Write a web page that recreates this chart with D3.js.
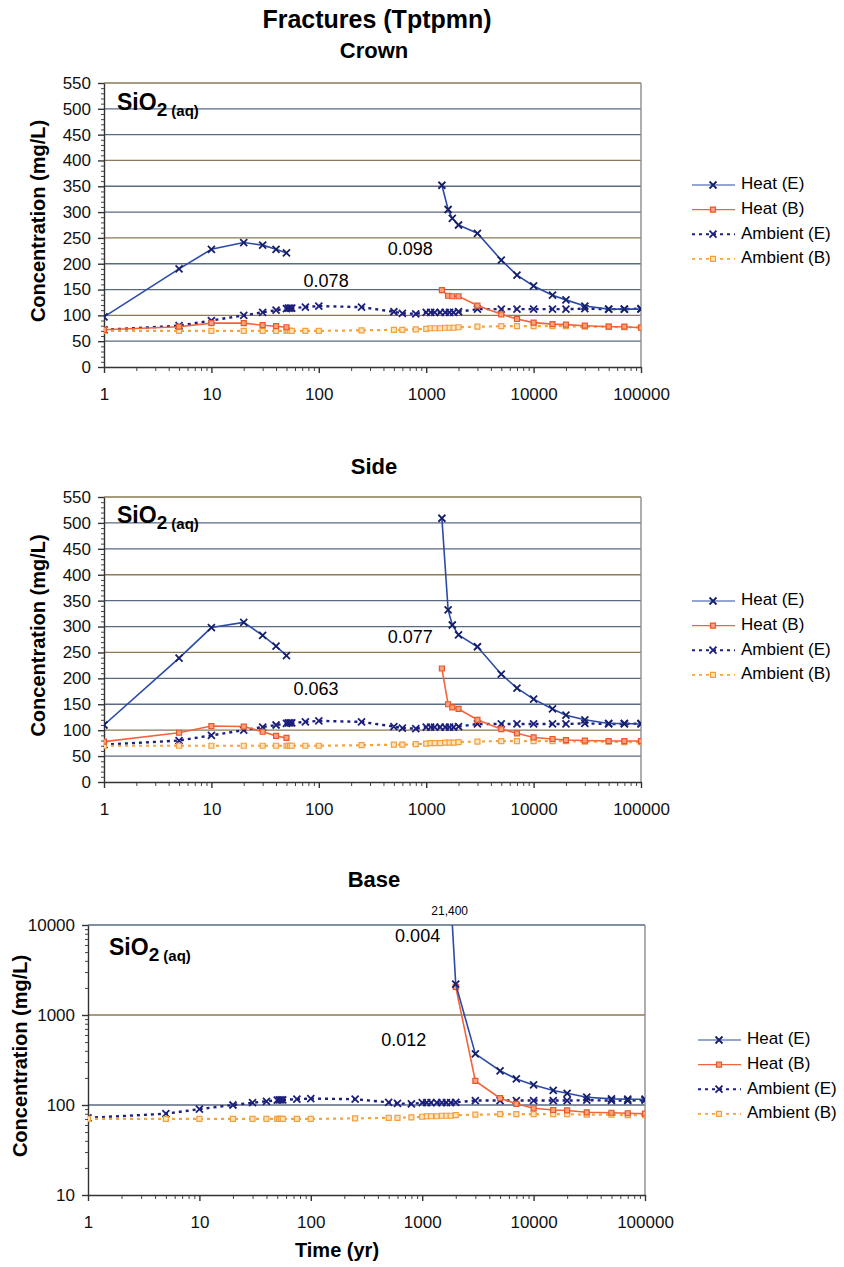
<!DOCTYPE html>
<html>
<head>
<meta charset="utf-8">
<script src="https://cdn.jsdelivr.net/npm/d3@7"></script>
<style>
  body { margin: 0; background: #fff; }
  text { font-family: "Liberation Sans", Arial, sans-serif; }
</style>
</head>
<body>
<svg id="chart" width="844" height="1267"></svg>
<script>
// ---- data ----
const heatYears1 = [1, 5, 10, 20, 30, 40, 50];
const heatYears2 = [1400, 1600, 1750, 2000, 3000, 5000, 7000, 10000, 15000, 20000, 30000, 50000, 70000, 100000];

const ambYears = [1, 5, 10, 20, 30, 40, 50, 52, 54, 56, 75, 100, 250, 500, 600, 800,
    1000, 1100, 1200, 1350, 1500, 1650, 1800, 2000, 3000, 5000, 7000, 10000, 15000, 20000, 30000, 50000, 70000, 100000];
const ambientE = [72, 80, 90, 100, 106, 110, 113, 114, 114, 114, 116, 118, 116, 107, 104, 103,
    106, 106, 106, 106, 106, 106, 106, 107, 112, 112, 112, 112, 112, 112, 113, 112, 112, 113];
const ambientB = [70, 70, 70, 70, 70, 70, 70, 70, 70, 70, 70, 70, 71, 72, 72, 73,
    74, 75, 75, 75, 76, 76, 76, 77, 78, 79, 79, 79, 79, 79, 78, 78, 77, 77];

const crownHeatE1 = [97, 190, 228, 241, 236, 228, 221];
const crownHeatE2 = [352, 305, 288, 275, 259, 207, 178, 157, 139, 130, 118, 112, 112, 112];
const crownHeatB1 = [72, 78, 85, 85, 81, 79, 77];
const crownHeatB2 = [149, 138, 137, 137, 119, 102, 93, 86, 83, 82, 80, 78, 78, 76];

const sideHeatE1 = [110, 239, 298, 308, 283, 262, 244];
const sideHeatE2 = [509, 332, 303, 284, 261, 208, 181, 160, 141, 129, 120, 113, 113, 112];
const sideHeatB1 = [78, 95, 108, 107, 97, 89, 85];
const sideHeatB2 = [219, 150, 144, 141, 120, 102, 94, 86, 83, 81, 80, 79, 79, 79];

const baseYearsE = [1800, 2000, 3000, 5000, 7000, 10000, 15000, 20000, 30000, 50000, 70000, 100000];
const baseHeatE = [21400, 2200, 370, 240, 195, 167, 145, 135, 122, 117, 116, 116];
const baseYearsB = [2000, 3000, 5000, 7000, 10000, 15000, 20000, 30000, 50000, 70000, 100000];
const baseHeatB = [2050, 185, 119, 103, 92, 88, 87, 83, 82, 81, 80];

const seriesNames = ['Heat (E)', 'Heat (B)', 'Ambient (E)', 'Ambient (B)'];
const linearTicks = d3.range(0, 551, 50);
const logTicks = [10, 100, 1000, 10000];
const timeTicks = [1, 10, 100, 1000, 10000, 100000];

// ---- styles ----
const styles = {
    'Heat (E)':    { line: '#2a4aa8', marker: 'x',  mColor: '#16206a', dash: null,  width: 1.6 },
    'Heat (B)':    { line: '#f2643a', marker: 'sq', mColor: '#e8582a', fill: '#f9a27c', dash: null, width: 1.6 },
    'Ambient (E)': { line: '#1c1f7c', marker: 'x',  mColor: '#1c1f7c', dash: '3,4', width: 2.4 },
    'Ambient (B)': { line: '#f5a43a', marker: 'sq', mColor: '#f2a040', fill: '#fde3bb', dash: '3,4', width: 2.2 }
};

const svg = d3.select('#chart');

function pairs(xs, ys) { return d3.zip(xs, ys); }

function markerPath(type) {
    if (type === 'x') return 'M-3.5,-3.5L3.5,3.5M-3.5,3.5L3.5,-3.5';
    return 'M-2.5,-2.5H2.5V2.5H-2.5Z';
}

function drawMarkers(g, pts, st, x, y) {
    g.selectAll(null)
        .data(pts)
        .join('path')
        .attr('d', markerPath(st.marker))
        .attr('transform', d => `translate(${x(d[0])},${y(d[1])})`)
        .attr('fill', st.marker === 'sq' ? st.fill : 'none')
        .attr('stroke', st.mColor)
        .attr('stroke-width', st.marker === 'x' ? 1.8 : 1.2);
}

function addPanel(p) {
    const x = d3.scaleLog().domain([1, 100000]).range([p.left, p.right]);
    const y = p.log
        ? d3.scaleLog().domain([10, 10000]).range([p.bottom, p.top])
        : d3.scaleLinear().domain([0, 550]).range([p.bottom, p.top]);

    const g = svg.append('g');

    // subtitle
    g.append('text')
        .attr('x', 374).attr('y', p.titleY)
        .attr('text-anchor', 'middle')
        .attr('font-size', '22px').attr('font-weight', 'bold')
        .text(p.title);

    g.append('clipPath').attr('id', 'clip-' + p.id)
        .append('rect')
        .attr('x', p.left).attr('y', p.top)
        .attr('width', p.right - p.left).attr('height', p.bottom - p.top);

    // gridlines
    const gridVals = p.log ? [100, 1000, 10000] : linearTicks.slice(1);
    g.selectAll(null).data(gridVals).join('line')
        .attr('x1', p.left).attr('x2', p.right)
        .attr('y1', d => y(d)).attr('y2', d => y(d))
        .attr('stroke', (d, i) => i % 3 === 1 ? '#8a7a55' : '#5a6a82')
        .attr('stroke-width', 1.3);

    // right border
    g.append('line')
        .attr('x1', p.right).attr('x2', p.right)
        .attr('y1', p.top).attr('y2', p.bottom)
        .attr('stroke', '#8c8c8c').attr('stroke-width', 1.4);

    // y axis, major + minor
    const yMinor = p.log
        ? d3.range(1, 4).flatMap(e => d3.range(2, 10).map(m => m * Math.pow(10, e)))
        : d3.range(0, 551, 10).filter(d => d % 50 !== 0);
    g.append('g')
        .attr('transform', `translate(${p.left},0)`)
        .call(d3.axisLeft(y).tickValues(yMinor).tickSize(3).tickFormat('').tickSizeOuter(0))
        .call(a => a.select('.domain').remove())
        .call(a => a.selectAll('line').attr('stroke', '#444'));
    const yAxisG = g.append('g')
        .attr('transform', `translate(${p.left},0)`)
        .call(d3.axisLeft(y).tickValues(p.log ? logTicks : linearTicks)
            .tickFormat(d3.format('d')).tickSize(6).tickSizeOuter(0).tickPadding(7));
    yAxisG.selectAll('text').attr('font-size', '17px').attr('fill', '#111')
        .style('font-family', '"Liberation Sans", Arial, sans-serif');
    yAxisG.selectAll('line, .domain').attr('stroke', '#333').attr('stroke-width', 1.4);

    // x axis, major + minor
    const xMinor = d3.range(0, 5).flatMap(e => d3.range(2, 10).map(m => m * Math.pow(10, e)));
    g.append('g')
        .attr('transform', `translate(0,${p.bottom})`)
        .call(d3.axisBottom(x).tickValues(xMinor).tickSize(4).tickFormat('').tickSizeOuter(0))
        .call(a => a.select('.domain').remove())
        .call(a => a.selectAll('line').attr('stroke', '#444'));
    const xAxisG = g.append('g')
        .attr('transform', `translate(0,${p.bottom})`)
        .call(d3.axisBottom(x).tickValues(timeTicks)
            .tickFormat(d3.format('d')).tickSize(6).tickSizeOuter(0).tickPadding(p.xPad));
    xAxisG.selectAll('text').attr('font-size', '17px').attr('fill', '#111')
        .style('font-family', '"Liberation Sans", Arial, sans-serif');
    xAxisG.selectAll('line, .domain').attr('stroke', '#333').attr('stroke-width', 1.4);

    // y axis title
    g.append('text')
        .attr('transform', `translate(${p.yTitleX},${(p.top + p.bottom) / 2 - 4}) rotate(-90)`)
        .attr('text-anchor', 'middle').attr('dominant-baseline', 'middle')
        .attr('font-size', '20px').attr('font-weight', 'bold')
        .text('Concentration (mg/L)');

    // species label
    const sp = g.append('text')
        .attr('x', p.left + p.spDx).attr('y', p.top + p.spDy)
        .attr('font-weight', 'bold').attr('font-size', '23px');
    sp.append('tspan').text('SiO');
    sp.append('tspan').attr('font-size', '19px').attr('dy', 6).text('2');
    sp.append('tspan').attr('font-size', '15px').text(' (aq)');

    // series
    const plot = g.append('g').attr('clip-path', `url(#clip-${p.id})`);
    const line = d3.line().x(d => x(d[0])).y(d => y(d[1]));
    // draw ambient first, then heat on top
    [2, 3, 1, 0].forEach(k => {
        const name = seriesNames[k];
        const st = styles[name];
        p.series[name].forEach(seg => {
            plot.append('path')
                .datum(seg)
                .attr('d', line)
                .attr('fill', 'none')
                .attr('stroke', st.line)
                .attr('stroke-width', st.width)
                .attr('stroke-dasharray', st.dash);
            drawMarkers(plot, seg, st, x, y);
        });
    });

    // annotations
    p.notes.forEach(n => {
        g.append('text')
            .attr('x', x(n.t)).attr('y', y(n.c))
            .attr('text-anchor', 'middle').attr('dominant-baseline', 'middle')
            .attr('font-size', n.size || '18px')
            .text(n.text);
    });

    // legend
    const lg = g.append('g').attr('transform', `translate(${p.legendX},${p.legendY})`);
    seriesNames.forEach((name, i) => {
        const st = styles[name];
        const row = lg.append('g').attr('transform', `translate(0,${i * 24.6})`);
        row.append('line')
            .attr('x1', 0).attr('x2', 43).attr('y1', 0).attr('y2', 0)
            .attr('stroke', st.line).attr('stroke-width', st.width - 0.4)
            .attr('stroke-dasharray', st.dash);
        drawMarkers(row, [[21, 0]], st, d => d, d => d);
        row.append('text')
            .attr('x', 49).attr('y', 0)
            .attr('dominant-baseline', 'middle')
            .attr('font-size', '17px')
            .text(name);
    });
}

// main title
svg.append('text')
    .attr('x', 377).attr('y', 28)
    .attr('text-anchor', 'middle')
    .attr('font-size', '25px').attr('font-weight', 'bold')
    .text('Fractures (Tptpmn)');

const ambientSeries = {
    'Ambient (E)': [pairs(ambYears, ambientE)],
    'Ambient (B)': [pairs(ambYears, ambientB)]
};

addPanel({
    id: 'crown', title: 'Crown', titleY: 58, log: false,
    left: 104, right: 641, top: 83, bottom: 367, xPad: 15,
    yTitleX: 40, spDx: 13, spDy: 27,
    legendX: 692, legendY: 185,
    series: Object.assign({
        'Heat (E)': [pairs(heatYears1, crownHeatE1), pairs(heatYears2, crownHeatE2)],
        'Heat (B)': [pairs(heatYears1, crownHeatB1), pairs(heatYears2, crownHeatB2)]
    }, ambientSeries),
    notes: [{ text: '0.098', t: 710, c: 227 }, { text: '0.078', t: 117, c: 165 }]
});

addPanel({
    id: 'side', title: 'Side', titleY: 474, log: false,
    left: 104, right: 641, top: 497, bottom: 782, xPad: 15,
    yTitleX: 40, spDx: 13, spDy: 26,
    legendX: 692, legendY: 601,
    series: Object.assign({
        'Heat (E)': [pairs(heatYears1, sideHeatE1), pairs(heatYears2, sideHeatE2)],
        'Heat (B)': [pairs(heatYears1, sideHeatB1), pairs(heatYears2, sideHeatB2)]
    }, ambientSeries),
    notes: [{ text: '0.077', t: 710, c: 278 }, { text: '0.063', t: 94, c: 178 }]
});

addPanel({
    id: 'base', title: 'Base', titleY: 887, log: true,
    left: 88, right: 645, top: 925, bottom: 1195, xPad: 15,
    yTitleX: 22, spDx: 21, spDy: 30,
    legendX: 698, legendY: 1040,
    series: Object.assign({
        'Heat (E)': [pairs(baseYearsE, baseHeatE)],
        'Heat (B)': [pairs(baseYearsB, baseHeatB)]
    }, ambientSeries),
    notes: [
        { text: '0.004', t: 910, c: 7360 },
        { text: '0.012', t: 682, c: 514 },
        { text: '21,400', t: 1765, c: 13900, size: '12px' }
    ]
});

// x axis title (bottom panel only)
svg.append('text')
    .attr('x', 337).attr('y', 1257)
    .attr('text-anchor', 'middle')
    .attr('font-size', '20px').attr('font-weight', 'bold')
    .text('Time (yr)');
</script>
</body>
</html>
